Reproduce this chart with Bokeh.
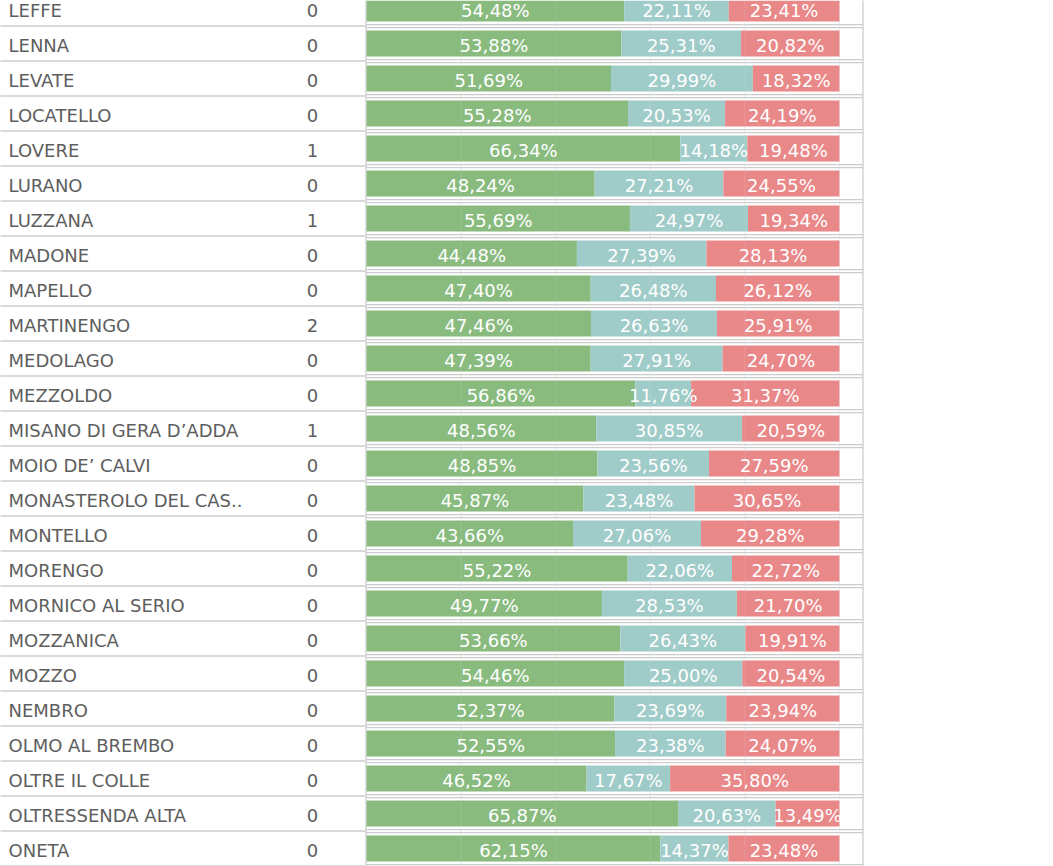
import numpy as np
from bokeh.plotting import figure
from bokeh.models import Range1d, ColumnDataSource
from bokeh.core.properties import value
from bokeh.embed import file_html
from bokeh.resources import INLINE

names = ["LEFFE", "LENNA", "LEVATE", "LOCATELLO", "LOVERE", "LURANO", "LUZZANA",
         "MADONE", "MAPELLO", "MARTINENGO", "MEDOLAGO", "MEZZOLDO",
         "MISANO DI GERA D\u2019ADDA", "MOIO DE\u2019 CALVI", "MONASTEROLO DEL CAS..",
         "MONTELLO", "MORENGO", "MORNICO AL SERIO", "MOZZANICA", "MOZZO", "NEMBRO",
         "OLMO AL BREMBO", "OLTRE IL COLLE", "OLTRESSENDA ALTA", "ONETA"]
counts = [0, 0, 0, 0, 1, 0, 1, 0, 0, 2, 0, 0, 1, 0, 0, 0, 0, 0, 0, 0, 0, 0, 0, 0, 0]
green = [54.48, 53.88, 51.69, 55.28, 66.34, 48.24, 55.69, 44.48, 47.40, 47.46, 47.39, 56.86,
         48.56, 48.85, 45.87, 43.66, 55.22, 49.77, 53.66, 54.46, 52.37, 52.55, 46.52, 65.87, 62.15]
teal = [22.11, 25.31, 29.99, 20.53, 14.18, 27.21, 24.97, 27.39, 26.48, 26.63, 27.91, 11.76,
        30.85, 23.56, 23.48, 27.06, 22.06, 28.53, 26.43, 25.00, 23.69, 23.38, 17.67, 20.63, 14.37]
red = [23.41, 20.82, 18.32, 24.19, 19.48, 24.55, 19.34, 28.13, 26.12, 25.91, 24.70, 31.37,
       20.59, 27.59, 30.65, 29.28, 22.72, 21.70, 19.91, 20.54, 23.94, 24.07, 35.80, 13.49, 23.48]
grid_ticks = [0, 20, 40, 60, 80, 100]

GREEN = "#89bb7f"
TEAL = "#9fcbc8"
RED = "#e98889"
SEP = "#cccccc"
TXT = "#5e5e5e"

W, H = 1053, 866
ROW = 35.0
TOP = 8.0           # y of first row centre
BAR_X0 = 366.0      # px of 0%
PX_PER_PCT = 4.73

def px2x(px):
    return (px - BAR_X0) / PX_PER_PCT

n = len(names)
rows = np.arange(n)
g = np.array(green); t = np.array(teal); r = np.array(red)

p = figure(width=W, height=H, output_backend="svg", toolbar_location=None,
           x_range=Range1d(px2x(0), px2x(W)), y_range=Range1d((H - TOP) / ROW, -TOP / ROW),
           min_border=0, outline_line_color=None)
p.axis.visible = False
p.grid.visible = False
p.background_fill_color = "white"
p.border_fill_color = "white"

ymax = H / ROW + 1
# vertical gridlines
p.segment(x0=grid_ticks, x1=grid_ticks, y0=[-1] * len(grid_ticks), y1=[ymax] * len(grid_ticks),
          line_color="#ececec", line_width=1)
# column divider and right border
p.segment(x0=[px2x(365.5), px2x(862.5)], x1=[px2x(365.5), px2x(862.5)],
          y0=[-1, -1], y1=[ymax, ymax], line_color=SEP, line_width=1.3)

# row separators
seps = rows + 0.5
p.segment(x0=[px2x(-10)] * n, x1=[px2x(365)] * n, y0=seps, y1=seps,
          line_color=SEP, line_width=1.3)
p.segment(x0=[px2x(365.5)] * n, x1=[px2x(862.5)] * n, y0=seps - 1.4 / ROW, y1=seps - 1.4 / ROW,
          line_color=SEP, line_width=1.3)
p.segment(x0=[px2x(365.5)] * n, x1=[px2x(862.5)] * n, y0=seps + 1.6 / ROW, y1=seps + 1.6 / ROW,
          line_color=SEP, line_width=1.3)

src = ColumnDataSource(dict(
    y=rows, g0=np.zeros(n), g1=g, t0=g, t1=g + t, r0=g + t, r1=g + t + r,
    gc=g / 2, tc=g + t / 2, rc=g + t + r / 2,
    gl=[f"{v:.2f}%".replace(".", ",") for v in g],
    tl=[f"{v:.2f}%".replace(".", ",") for v in t],
    rl=[f"{v:.2f}%".replace(".", ",") for v in r],
    names=names, counts=[str(c) for c in counts],
    ty=rows + 2.0 / ROW,
))
BH = 26.0 / ROW
p.hbar(y="y", left="g0", right="g1", height=BH, fill_color=GREEN, line_color=None, source=src)
p.hbar(y="y", left="t0", right="t1", height=BH, fill_color=TEAL, line_color=None, source=src)
p.hbar(y="y", left="r0", right="r1", height=BH, fill_color=RED, line_color=None, source=src)
# faint gridlines visible through bars
p.segment(x0=grid_ticks, x1=grid_ticks, y0=[-1] * len(grid_ticks), y1=[ymax] * len(grid_ticks),
          line_color="#ffffff", line_alpha=0.12, line_width=1)

lab = dict(text_color="white", text_font=value("DejaVu Sans"), text_font_size=value("18px"),
           text_align="center", text_baseline="alphabetic", source=src)
p.text(x="gc", y="ty", text="gl", **lab)
p.text(x="tc", y="ty", text="tl", **lab)
p.text(x="rc", y="ty", text="rl", **lab)

p.text(x=px2x(8), y="ty", text="names", text_color=TXT, text_font=value("DejaVu Sans"),
       text_font_size=value("18px"), text_align="left", text_baseline="alphabetic", source=src)
p.text(x=px2x(312), y="ty", text="counts", text_color=TXT, text_font=value("DejaVu Sans"),
       text_font_size=value("18px"), text_align="center", text_baseline="alphabetic", source=src)

open("out.html", "w").write(file_html(p, INLINE))
